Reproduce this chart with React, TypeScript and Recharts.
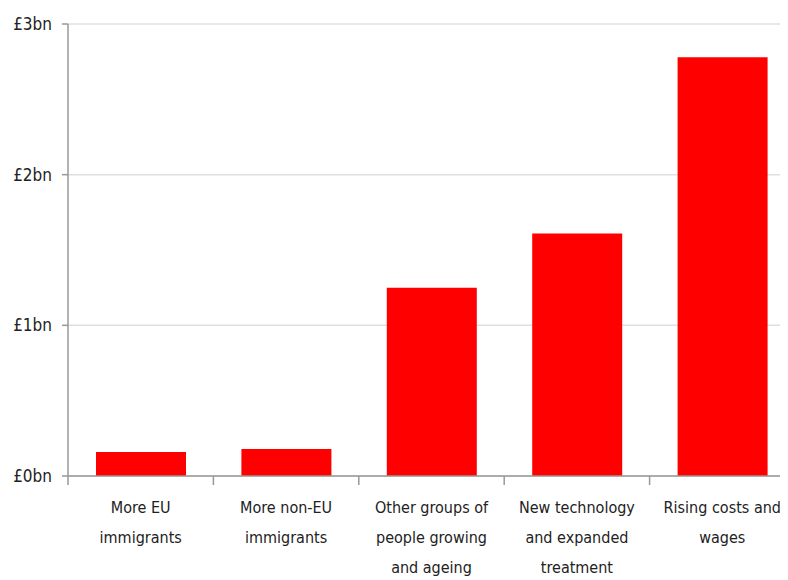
import React from "react";
import { BarChart, Bar, XAxis, YAxis, CartesianGrid } from "recharts";

const categories = [
  "More EU\nimmigrants",
  "More non-EU\nimmigrants",
  "Other groups of\npeople growing\nand ageing",
  "New technology\nand expanded\ntreatment",
  "Rising costs and\nwages",
];
const costBn = [0.16, 0.18, 1.25, 1.61, 2.78];
const yTicks = [0, 1, 2, 3];
const yTickLabels = ["£0bn", "£1bn", "£2bn", "£3bn"];

const data = categories.map((c, i) => ({ name: c, value: costBn[i] }));

const FONT = "'Liberation Sans Narrow', 'DejaVu Sans Condensed', sans-serif";

const CatTick = (props: any) => {
  const { x, y, payload, width, index } = props;
  const half =
    payload && typeof payload.offset === "number" && payload.offset > 0
      ? payload.offset
      : (width || 729) / categories.length / 2;
  const lines = String(payload.value).split("\n");
  return (
    <g>
      <line x1={x - half} x2={x - half} y1={y} y2={y + 9} stroke="#999" strokeWidth={1.5} />
      {index === categories.length - 1 && (
        <line x1={x + half} x2={x + half} y1={y} y2={y + 9} stroke="#999" strokeWidth={1.5} />
      )}
      {lines.map((l: string, i: number) => (
        <text
          key={i}
          x={x}
          y={y + i * 30}
          dy={37}
          textAnchor="middle"
          fill="#222"
          fontSize={16}
          fontFamily={FONT}
        >
          {l}
        </text>
      ))}
    </g>
  );
};

export default function App() {
  return (
    <div style={{ width: 780, height: 572, overflow: "hidden" }}>
      <BarChart width={800} height={572} data={data} margin={{ top: 16, right: 13, left: 0, bottom: 0 }}>
        <CartesianGrid vertical={false} stroke="#e0e0e0" strokeWidth={1.5} />
        <XAxis
          dataKey="name"
          interval={0}
          axisLine={{ stroke: "#999", strokeWidth: 1.5 }}
          tickLine={false}
          tickSize={0}
          tickMargin={0}
          tick={<CatTick />}
          height={104}
        />
        <YAxis
          domain={[0, 3]}
          ticks={yTicks}
          tickFormatter={(v: number) => yTickLabels[yTicks.indexOf(v)]}
          width={60}
          tickSize={6}
          tickMargin={10}
          axisLine={{ stroke: "#999", strokeWidth: 1.5 }}
          tickLine={{ stroke: "#999", strokeWidth: 1.5 }}
          tick={{ fill: "#222", fontSize: 17, fontFamily: FONT }}
        />
        <Bar dataKey="value" fill="#ff0000" barSize={90} isAnimationActive={false} />
      </BarChart>
    </div>
  );
}
